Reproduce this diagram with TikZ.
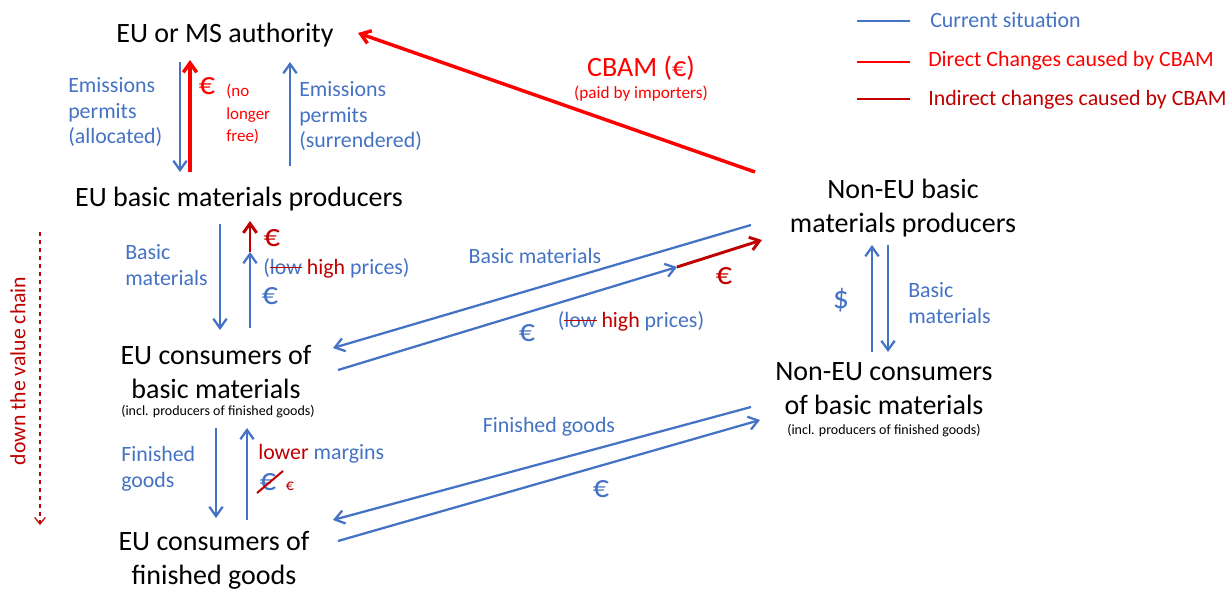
\documentclass[tikz,border=0pt]{standalone}
\usepackage{fontspec}
\setmainfont{Carlito}
\usetikzlibrary{arrows.meta}
\definecolor{cblue}{HTML}{4472C4}
\definecolor{cred}{HTML}{FF0000}
\definecolor{dred}{HTML}{C00000}
\newsavebox\strkbox
\newcommand\strk[1]{\sbox\strkbox{#1}\rlap{\usebox\strkbox}\textcolor{dred}{\rule[0.26em]{\wd\strkbox}{1.4pt}}}
\tikzset{
 big/.style={font=\fontsize{21}{25.5}\selectfont, align=center, inner sep=0pt},
 lab/.style={font=\fontsize{16.4}{19.3}\selectfont, text=cblue, align=left, inner sep=0pt},
 small/.style={font=\fontsize{10.5}{12}\selectfont, inner sep=0pt},
 eur/.style={font=\fontsize{24}{26}\selectfont, inner sep=0pt},
 arr/.style={-{Straight Barb[length=7pt,width=10pt]}},
 bl/.style={arr, draw=cblue, line width=1.7pt},
 rd/.style={arr, draw=cred, line width=2.6pt},
 dr/.style={arr, draw=dred, line width=2.2pt},
 legline/.style={line width=1.7pt},
}
\begin{document}
\begin{tikzpicture}[x=0.75pt,y=-0.75pt]
\useasboundingbox (0,0) rectangle (1228,589);
% main nodes
\node[big] (auth) at (225,35) {EU or MS authority};
\node[big] (eubp) at (239,199) {EU basic materials producers};
\node[big] (eucb) at (216,372) {EU consumers of\\basic materials};
\node[small] (eucbs) at (218,412) {(incl. producers of finished goods)};
\node[big] (eucf) at (214,560) {EU consumers of\\finished goods};
\node[big] (nebp) at (903,208) {Non-EU basic\\materials producers};
\node[big] (necb) at (884,389) {Non-EU consumers\\of basic materials};
\node[small] (necbs) at (884,431) {(incl. producers of finished goods)};

% legend
\coordinate (lg1a) at (857,21); \coordinate (lg1b) at (910,21);
\coordinate (lg2a) at (857,62); \coordinate (lg2b) at (910,62);
\coordinate (lg3a) at (857,99); \coordinate (lg3b) at (910,99);
\draw[legline, cblue] (lg1a) -- (lg1b);
\draw[legline, cred] (lg2a) -- (lg2b);
\draw[legline, dred] (lg3a) -- (lg3b);
\node[lab, anchor=west] (lgt1) at (930,20) {Current situation};
\node[lab, anchor=west, text=cred] (lgt2) at (928,61) {Direct Changes caused by CBAM};
\node[lab, anchor=west, text=dred] (lgt3) at (928,100) {Indirect changes caused by CBAM};

% authority <-> EU producers
\coordinate (a1s) at (180,62); \coordinate (a1e) at (180,172);
\coordinate (a2s) at (190,172); \coordinate (a2e) at (190,60);
\coordinate (a3s) at (290,166); \coordinate (a3e) at (290,62);
\draw[bl] (a1s) -- (a1e);
\draw[rd] (a2s) -- (a2e);
\draw[bl] (a3s) -- (a3e);
\node[lab, anchor=west] (ep1) at (68,112) {Emissions\\permits\\(allocated)};
\node[eur, text=cred] (eur1) at (207,86) {€};
\node[font=\fontsize{12.7}{17}\selectfont, text=cred, align=left, inner sep=0pt, anchor=west] (nlf) at (226,114) {(no\\longer\\free)};
\node[lab, anchor=west] (ep2) at (299,116) {Emissions\\permits\\(surrendered)};

% CBAM
\coordinate (cb1) at (755,172); \coordinate (cb2) at (358,33);
\draw[rd] (cb1) -- (cb2);
\node[font=\fontsize{21}{23}\selectfont, text=cred, inner sep=0pt] (cbam) at (641,68) {CBAM (€)};
\node[font=\fontsize{12.9}{14}\selectfont, inner sep=0pt, text=cred] (cbams) at (641,94) {(paid by importers)};

% EU producers <-> EU consumers of basic materials
\coordinate (b1s) at (220,224); \coordinate (b1e) at (220,330);
\coordinate (b2s) at (250,328); \coordinate (b2m) at (250,252); \coordinate (b2e) at (250,221);
\draw[bl] (b1s) -- (b1e);
\draw[bl] (b2s) -- (b2m);
\draw[dr] (b2m) -- (b2e);
\node[lab, anchor=west] (bm1) at (125,265) {Basic\\materials};
\node[eur, text=dred] (eur2) at (272,238) {€};
\node[lab, anchor=west] (lh1) at (263,268) {(\strk{low} \textcolor{dred}{high} prices)};
\node[eur, text=cblue] (eur3) at (270,296) {€};

% Non-EU producers <-> EU consumers of basic materials
\coordinate (d1s) at (751,225); \coordinate (d1e) at (333,348);
\coordinate (d2s) at (338,370); \coordinate (d2m) at (677,267); \coordinate (d2e) at (762,240);
\draw[bl] (d1s) -- (d1e);
\draw[bl] (d2s) -- (d2m);
\draw[dr] (d2m) -- (d2e);
\node[lab] (bm2) at (535,256) {Basic materials};
\node[eur, text=cblue] (eur4) at (527,333) {€};
\node[lab] (lh2) at (631,321) {(\strk{low} \textcolor{dred}{high} prices)};
\node[eur, text=dred] (eur5) at (724,276) {€};

% Non-EU producers <-> Non-EU consumers
\coordinate (n1s) at (872,352); \coordinate (n1e) at (872,245);
\coordinate (n2s) at (888,245); \coordinate (n2e) at (888,352);
\draw[bl] (n1s) -- (n1e);
\draw[bl] (n2s) -- (n2e);
\node[eur, text=cblue] (dol) at (841,300) {\$};
\node[lab, anchor=west] (bm3) at (908,303) {Basic\\materials};

% EU consumers of basic materials <-> consumers of finished goods
\coordinate (f1s) at (216,428); \coordinate (f1e) at (216,518);
\coordinate (f2s) at (247,520); \coordinate (f2e) at (247,428);
\draw[bl] (f1s) -- (f1e);
\draw[bl] (f2s) -- (f2e);
\node[lab, anchor=west] (fg1) at (121,469) {Finished\\goods};
\node[lab, anchor=west] (lm) at (258,454) {\textcolor{dred}{lower} margins};
\node[eur, text=cblue] (eur6) at (268,482) {€};
\draw[dred, line width=1.5pt] ([shift={(-11,11)}]eur6.center) -- ([shift={(15,-11)}]eur6.center);
\node[font=\fontsize{12}{13}\selectfont, text=dred, inner sep=0pt] (eur7) at (290,486) {€};

% Non-EU consumers <-> EU consumers of finished goods
\coordinate (g1s) at (751,407); \coordinate (g1e) at (333,520);
\coordinate (g2s) at (338,541); \coordinate (g2e) at (760,420);
\draw[bl] (g1s) -- (g1e);
\draw[bl] (g2s) -- (g2e);
\node[lab] (fg2) at (549,427) {Finished goods};
\node[eur, text=cblue] (eur8) at (601,489) {€};

% value chain
\coordinate (vc1) at (40,232); \coordinate (vc2) at (40,525);
\draw[dred, dashed, line width=0.9pt, -{Straight Barb[length=5pt,width=8pt]}] (vc1) -- (vc2);
\node[font=\fontsize{16.3}{18}\selectfont, text=dred, rotate=90, inner sep=0pt] (vct) at (18,371) {down the value chain};
\end{tikzpicture}
\end{document}
